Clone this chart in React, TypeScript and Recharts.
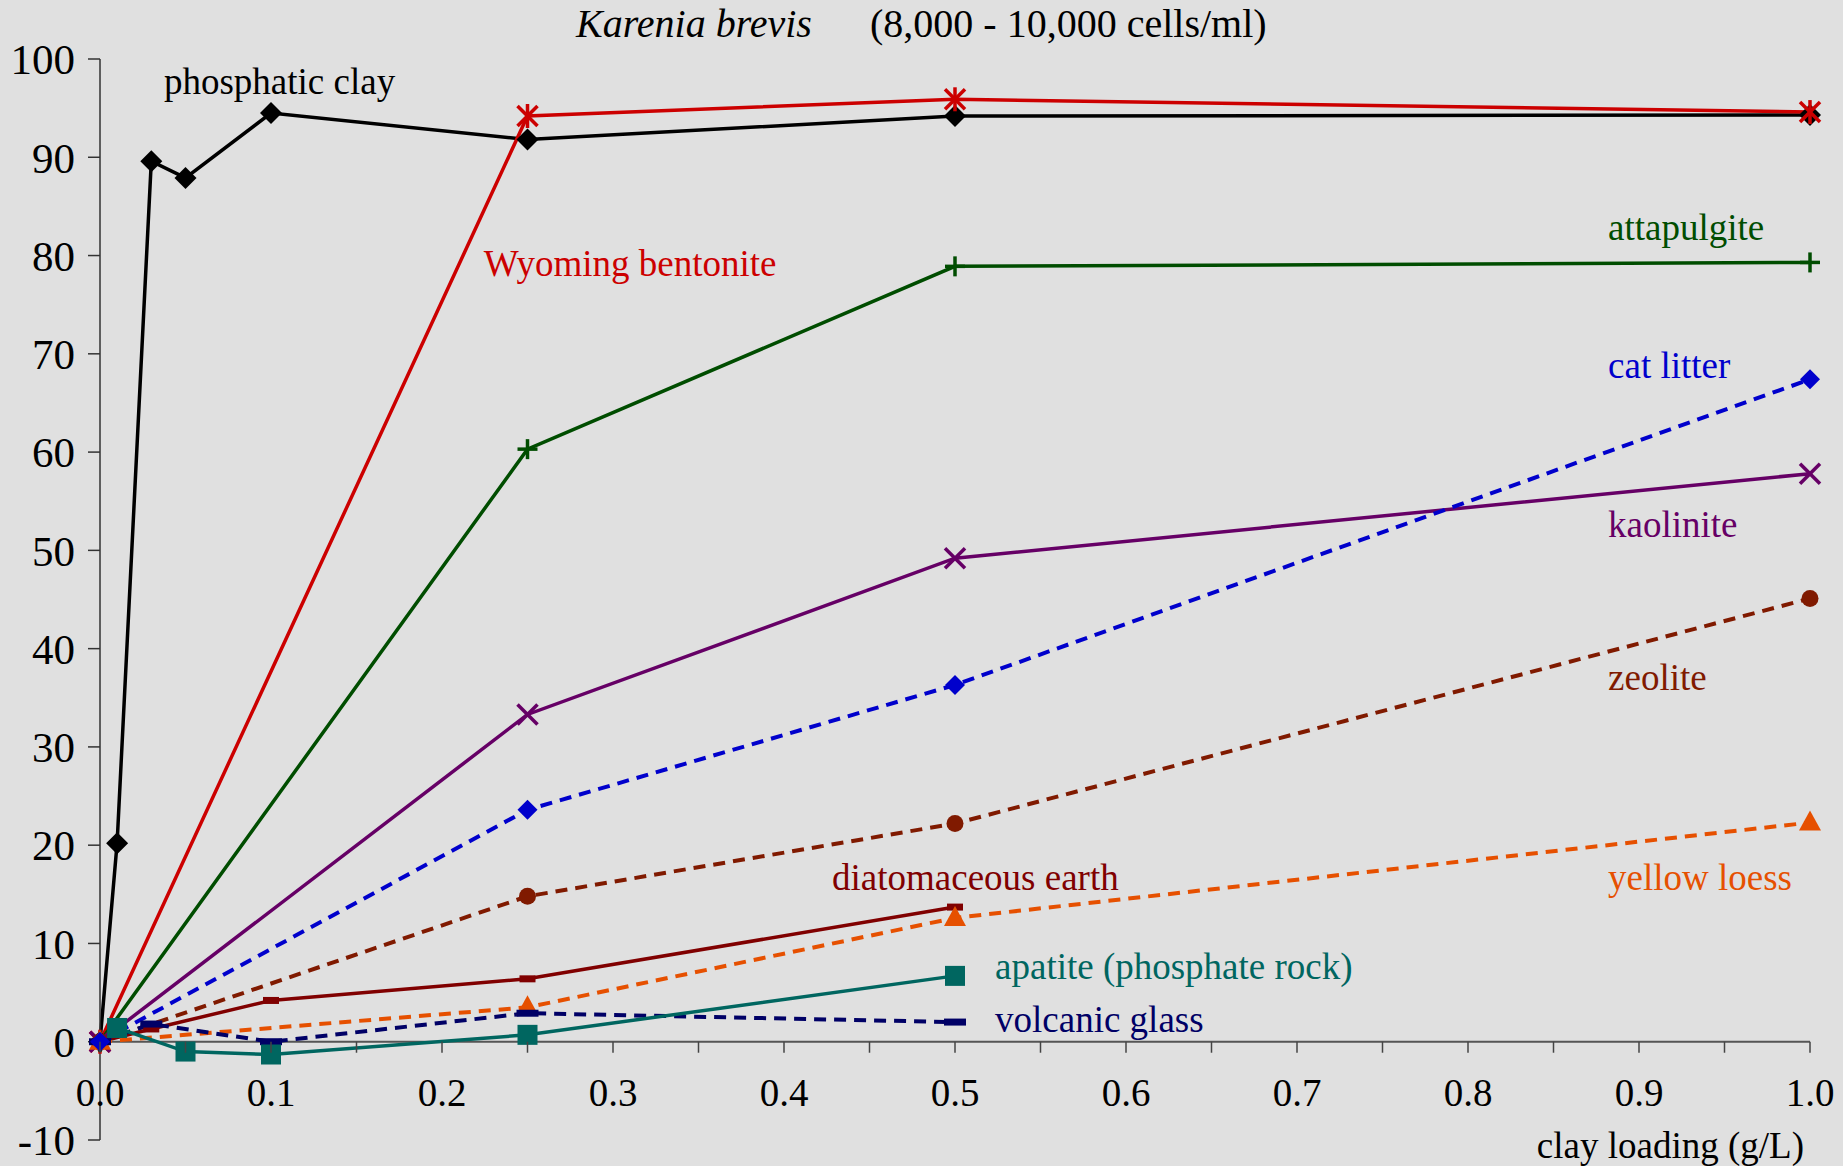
import React from "react";
import { LineChart, Line, XAxis, YAxis, ReferenceLine, ReferenceDot } from "recharts";

const phosphaticClayX = [0, 0.01, 0.03, 0.05, 0.1, 0.25, 0.5, 1.0];
const phosphaticClayY = [0, 20.2, 89.6, 87.9, 94.5, 91.8, 94.2, 94.3];
const wyomingX = [0, 0.25, 0.5, 1.0];
const wyomingY = [0, 94.2, 95.9, 94.6];
const attapulgiteX = [0, 0.25, 0.5, 1.0];
const attapulgiteY = [0, 60.3, 78.9, 79.3];
const kaoliniteX = [0, 0.25, 0.5, 1.0];
const kaoliniteY = [0, 33.3, 49.2, 57.8];
const catLitterX = [0, 0.25, 0.5, 1.0];
const catLitterY = [0, 23.6, 36.3, 67.4];
const zeoliteX = [0, 0.25, 0.5, 1.0];
const zeoliteY = [0, 14.8, 22.2, 45.1];
const diatomX = [0, 0.03, 0.1, 0.25, 0.5];
const diatomY = [0, 1.3, 4.2, 6.4, 13.7];
const loessX = [0, 0.25, 0.5, 1.0];
const loessY = [0, 3.5, 12.6, 22.3];
const apatiteX = [0.01, 0.05, 0.1, 0.25, 0.5];
const apatiteY = [1.4, -1.0, -1.3, 0.7, 6.7];
const volcanicX = [0, 0.03, 0.1, 0.25, 0.5];
const volcanicY = [0, 1.8, 0.0, 2.9, 2.0];

const xTicks = [0, 0.05, 0.1, 0.15, 0.2, 0.25, 0.3, 0.35, 0.4, 0.45, 0.5, 0.55, 0.6, 0.65, 0.7, 0.75, 0.8, 0.85, 0.9, 0.95, 1.0];
const yTicks = [-10, 0, 10, 20, 30, 40, 50, 60, 70, 80, 90, 100];

const W = 1843;
const H = 1166;
const FONT = "'Liberation Serif', 'Times New Roman', serif";
const margin = { top: 59, right: 33, bottom: 0, left: 0 };
const Y_AXIS_W = 100;
const X_AXIS_H = 26;
const Y_MIN = -10;
const Y_MAX = 100;
const PLOT_H = H - margin.top - margin.bottom - X_AXIS_H;
const ZERO_OFFSET = (PLOT_H * (0 - Y_MIN)) / (Y_MAX - Y_MIN);

const zip = (xs: number[], ys: number[]) => xs.map((x, i) => ({ x, y: ys[i] }));

type Kind = "diamond" | "asterisk" | "plus" | "cross" | "circle" | "dash" | "smallDash" | "triangle" | "square" | "bigDiamond";

const Marker = ({ cx, cy, kind, color }: { cx: number; cy: number; kind: Kind; color: string }) => {
  if (cx == null || cy == null) return null;
  switch (kind) {
    case "bigDiamond":
      return <polygon points={`${cx},${cy - 11} ${cx + 11},${cy} ${cx},${cy + 11} ${cx - 11},${cy}`} fill={color} />;
    case "diamond":
      return <polygon points={`${cx},${cy - 10} ${cx + 10},${cy} ${cx},${cy + 10} ${cx - 10},${cy}`} fill={color} />;
    case "asterisk":
      return (
        <g stroke={color} strokeWidth={3.5}>
          <line x1={cx - 10} y1={cy - 10} x2={cx + 10} y2={cy + 10} />
          <line x1={cx - 10} y1={cy + 10} x2={cx + 10} y2={cy - 10} />
          <line x1={cx} y1={cy - 12} x2={cx} y2={cy + 12} />
        </g>
      );
    case "plus":
      return (
        <g stroke={color} strokeWidth={3.5}>
          <line x1={cx - 10} y1={cy} x2={cx + 10} y2={cy} />
          <line x1={cx} y1={cy - 10} x2={cx} y2={cy + 10} />
        </g>
      );
    case "cross":
      return (
        <g stroke={color} strokeWidth={3.5}>
          <line x1={cx - 10} y1={cy - 10} x2={cx + 10} y2={cy + 10} />
          <line x1={cx - 10} y1={cy + 10} x2={cx + 10} y2={cy - 10} />
        </g>
      );
    case "circle":
      return <circle cx={cx} cy={cy} r={8.5} fill={color} />;
    case "dash":
      return <rect x={cx - 11} y={cy - 3.5} width={22} height={7} fill={color} />;
    case "smallDash":
      return <rect x={cx - 8} y={cy - 3.5} width={16} height={7} fill={color} />;
    case "triangle":
      return <polygon points={`${cx},${cy - 12} ${cx + 11},${cy + 8} ${cx - 11},${cy + 8}`} fill={color} />;
    case "square":
      return <rect x={cx - 10} y={cy - 10} width={20} height={20} fill={color} />;
  }
  return null;
};

const series = [
  { name: "phosphatic clay", data: zip(phosphaticClayX, phosphaticClayY), color: "#000000", kind: "bigDiamond" as Kind, dashed: false },
  { name: "Wyoming bentonite", data: zip(wyomingX, wyomingY), color: "#cc0000", kind: "asterisk" as Kind, dashed: false },
  { name: "attapulgite", data: zip(attapulgiteX, attapulgiteY), color: "#004d00", kind: "plus" as Kind, dashed: false },
  { name: "kaolinite", data: zip(kaoliniteX, kaoliniteY), color: "#660066", kind: "cross" as Kind, dashed: false },
  { name: "diatomaceous earth", data: zip(diatomX, diatomY), color: "#800000", kind: "smallDash" as Kind, dashed: false },
  { name: "zeolite", data: zip(zeoliteX, zeoliteY), color: "#801a00", kind: "circle" as Kind, dashed: true },
  { name: "yellow loess", data: zip(loessX, loessY), color: "#e65000", kind: "triangle" as Kind, dashed: true },
  { name: "volcanic glass", data: zip(volcanicX, volcanicY), color: "#000066", kind: "dash" as Kind, dashed: true },
  { name: "cat litter", data: zip(catLitterX, catLitterY), color: "#0000cc", kind: "diamond" as Kind, dashed: true },
  { name: "apatite (phosphate rock)", data: zip(apatiteX, apatiteY), color: "#006660", kind: "square" as Kind, dashed: false },
];

// label anchors, in data units (left edge / baseline of the text)
const labels = [
  { text: "phosphatic clay", x: 0.038, y: 96.4, color: "#000000" },
  { text: "Wyoming bentonite", x: 0.225, y: 77.9, color: "#cc0000" },
  { text: "attapulgite", x: 0.8825, y: 81.6, color: "#004d00" },
  { text: "cat litter", x: 0.8825, y: 67.5, color: "#0000cc" },
  { text: "kaolinite", x: 0.8825, y: 51.4, color: "#660066" },
  { text: "zeolite", x: 0.8825, y: 35.8, color: "#801a00" },
  { text: "yellow loess", x: 0.8825, y: 15.4, color: "#e65000" },
  { text: "diatomaceous earth", x: 0.4287, y: 15.4, color: "#800000" },
  { text: "apatite (phosphate rock)", x: 0.524, y: 6.35, color: "#006660" },
  { text: "volcanic glass", x: 0.524, y: 0.96, color: "#000066" },
];

const XTick = (props: any) => {
  const { x, y, payload } = props;
  const zeroY = y - ZERO_OFFSET;
  const v = payload.value as number;
  const major = Math.round(v * 100) % 10 === 0;
  return (
    <g>
      <line x1={x} x2={x} y1={zeroY} y2={zeroY + 11} stroke="#444" strokeWidth={1.5} />
      {major && (
        <text x={x} y={zeroY + 64} textAnchor="middle" fontFamily={FONT} fontSize={39} fill="#000">
          {v.toFixed(1)}
        </text>
      )}
    </g>
  );
};

export default function App() {
  return (
    <div style={{ position: "absolute", left: 0, top: 0, width: W, height: H, background: "#e0e0e0" }}>
      <LineChart width={W} height={H} margin={margin}>
        <XAxis
          type="number"
          dataKey="x"
          domain={[0, 1]}
          ticks={xTicks}
          interval={0}
          height={X_AXIS_H}
          axisLine={false}
          tickLine={false}
          tickSize={0}
          tickMargin={0}
          tick={<XTick />}
        />
        <YAxis
          type="number"
          domain={[Y_MIN, Y_MAX]}
          ticks={yTicks}
          interval={0}
          width={Y_AXIS_W}
          axisLine={{ stroke: "#333", strokeWidth: 1.5 }}
          tickLine={{ stroke: "#333", strokeWidth: 1.5 }}
          tickSize={12}
          tickMargin={13}
          tick={{ fontFamily: FONT, fontSize: 43, fill: "#000" }}
        />
        <ReferenceLine y={0} stroke="#555" strokeWidth={2} />
        {series.map((s) => (
          <Line
            key={s.name}
            data={s.data}
            dataKey="y"
            type="linear"
            stroke={s.color}
            strokeWidth={s.dashed ? 4 : 3.5}
            strokeDasharray={s.dashed ? "12 8" : undefined}
            isAnimationActive={false}
            activeDot={false}
            dot={(p: any) => <Marker key={`${s.name}-${p.index}`} cx={p.cx} cy={p.cy} kind={s.kind} color={s.color} />}
          />
        ))}
        {labels.map((l) => (
          <ReferenceDot
            key={l.text}
            x={l.x}
            y={l.y}
            r={1}
            fill="none"
            stroke="none"
            ifOverflow="visible"
            label={(p: any) => (
              <text x={p.viewBox.x} y={p.viewBox.y + 1} fontFamily={FONT} fontSize={37} fill={l.color}>
                {l.text}
              </text>
            )}
          />
        ))}
      </LineChart>
      <svg width={W} height={H} style={{ position: "absolute", left: 0, top: 0, pointerEvents: "none" }}>
        <text x={576} y={37} fontFamily={FONT} fontSize={40} fontStyle="italic" fill="#000">
          Karenia brevis
        </text>
        <text x={870} y={37} fontFamily={FONT} fontSize={40} fill="#000">
          (8,000 - 10,000 cells/ml)
        </text>
        <text x={1804} y={1158} textAnchor="end" fontFamily={FONT} fontSize={37} fill="#000">
          clay loading (g/L)
        </text>
      </svg>
    </div>
  );
}
